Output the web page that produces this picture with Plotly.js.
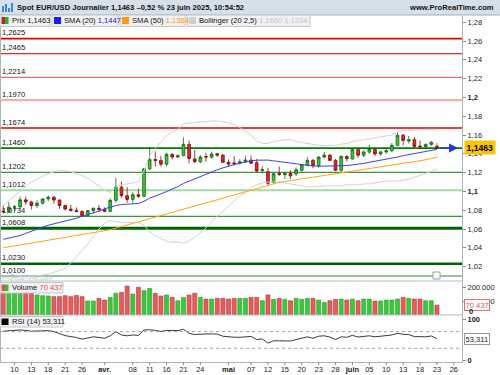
<!DOCTYPE html>
<html><head><meta charset="utf-8">
<script src="https://cdn.plot.ly/plotly-3.0.1.min.js"></script>
<style>html,body{margin:0;padding:0;background:#fff;}#chart{width:500px;height:375px;}</style>
</head><body><div id="chart"></div>
<script>
const dates = ['2025-03-06','2025-03-07','2025-03-10','2025-03-11','2025-03-12','2025-03-13','2025-03-14','2025-03-17','2025-03-18','2025-03-19','2025-03-20','2025-03-21','2025-03-24','2025-03-25','2025-03-26','2025-03-27','2025-03-28','2025-03-31','2025-04-01','2025-04-02','2025-04-03','2025-04-04','2025-04-07','2025-04-08','2025-04-09','2025-04-10','2025-04-11','2025-04-14','2025-04-15','2025-04-16','2025-04-17','2025-04-18','2025-04-21','2025-04-22','2025-04-23','2025-04-24','2025-04-25','2025-04-28','2025-04-29','2025-04-30','2025-05-01','2025-05-02','2025-05-05','2025-05-06','2025-05-07','2025-05-08','2025-05-09','2025-05-12','2025-05-13','2025-05-14','2025-05-15','2025-05-16','2025-05-19','2025-05-20','2025-05-21','2025-05-22','2025-05-23','2025-05-26','2025-05-27','2025-05-28','2025-05-29','2025-05-30','2025-06-02','2025-06-03','2025-06-04','2025-06-05','2025-06-06','2025-06-09','2025-06-10','2025-06-11','2025-06-12','2025-06-13','2025-06-16','2025-06-17','2025-06-18','2025-06-19','2025-06-20','2025-06-23'];
const futureDates = ['2025-06-24','2025-06-25','2025-06-26','2025-06-27'];

const open  = [1.0790,1.0785,1.0831,1.0836,1.0910,1.0888,1.0850,1.0875,1.0920,1.0938,1.0908,1.0850,1.0812,1.0798,1.0786,1.0742,1.0795,1.0820,1.0808,1.0788,1.0905,1.1045,1.0955,1.0915,1.0965,1.0948,1.1240,1.1340,1.1330,1.1290,1.1395,1.1366,1.1380,1.1500,1.1346,1.1316,1.1370,1.1363,1.1400,1.1386,1.1310,1.1303,1.1298,1.1315,1.1334,1.1306,1.1220,1.1210,1.1095,1.1190,1.1178,1.1192,1.1185,1.1225,1.1280,1.1330,1.1275,1.1365,1.1386,1.1330,1.1225,1.1372,1.1345,1.1445,1.1385,1.1418,1.1448,1.1398,1.1420,1.1432,1.1490,1.1598,1.1535,1.1550,1.1482,1.1476,1.1500,1.1480];
const high  = [1.0854,1.0888,1.0856,1.0947,1.0946,1.0900,1.0905,1.0925,1.0955,1.0951,1.0915,1.0860,1.0858,1.0830,1.0800,1.0805,1.0830,1.0855,1.0830,1.0925,1.1144,1.1105,1.1045,1.0990,1.1030,1.1250,1.1473,1.1425,1.1375,1.1410,1.1405,1.1395,1.1573,1.1540,1.1440,1.1385,1.1410,1.1425,1.1410,1.1395,1.1340,1.1375,1.1345,1.1380,1.1380,1.1345,1.1265,1.1250,1.1200,1.1265,1.1210,1.1225,1.1255,1.1290,1.1365,1.1345,1.1375,1.1420,1.1395,1.1345,1.1385,1.1385,1.1455,1.1455,1.1435,1.1495,1.1460,1.1430,1.1450,1.1515,1.1630,1.1613,1.1590,1.1580,1.1540,1.1510,1.1535,1.1512];
const low   = [1.0765,1.0766,1.0790,1.0810,1.0860,1.0808,1.0825,1.0860,1.0895,1.0868,1.0815,1.0796,1.0785,1.0780,1.0733,1.0730,1.0765,1.0780,1.0777,1.0778,1.0880,1.0935,1.0880,1.0880,1.0930,1.0940,1.1230,1.1265,1.1265,1.1265,1.1340,1.1355,1.1375,1.1300,1.1300,1.1300,1.1315,1.1350,1.1365,1.1300,1.1265,1.1275,1.1285,1.1300,1.1290,1.1200,1.1190,1.1065,1.1085,1.1165,1.1130,1.1130,1.1165,1.1210,1.1265,1.1245,1.1250,1.1350,1.1320,1.1215,1.1210,1.1320,1.1340,1.1357,1.1365,1.1400,1.1375,1.1380,1.1400,1.1420,1.1480,1.1490,1.1510,1.1470,1.1450,1.1445,1.1485,1.1452];
const close = [1.0785,1.0833,1.0836,1.0910,1.0888,1.0850,1.0875,1.0920,1.0938,1.0908,1.0850,1.0812,1.0798,1.0786,1.0742,1.0795,1.0820,1.0808,1.0788,1.0905,1.1045,1.0955,1.0915,1.0965,1.0948,1.1240,1.1340,1.1330,1.1290,1.1395,1.1365,1.1380,1.1500,1.1350,1.1316,1.1366,1.1366,1.1398,1.1386,1.1310,1.1290,1.1296,1.1315,1.1334,1.1300,1.1217,1.1232,1.1086,1.1188,1.1180,1.1190,1.1166,1.1230,1.1283,1.1330,1.1275,1.1365,1.1386,1.1330,1.1225,1.1372,1.1348,1.1445,1.1385,1.1420,1.1455,1.1398,1.1420,1.1432,1.1490,1.1598,1.1542,1.1550,1.1478,1.1476,1.1500,1.1523,1.1463];

const volume = [200000,185000,170000,175000,165000,160000,143000,138000,136000,131000,131000,138000,131000,140000,131000,100000,100000,119000,107000,126000,155000,162000,207000,150000,198000,174000,190000,155000,136000,143000,126000,102000,126000,143000,155000,126000,114000,114000,119000,119000,114000,119000,119000,119000,126000,126000,102000,143000,112000,119000,112000,102000,119000,112000,119000,119000,107000,90000,102000,112000,114000,107000,114000,102000,114000,114000,100000,100000,107000,107000,114000,126000,119000,114000,114000,102000,102000,70437];

const sma20 = [1.0490,1.0503,1.0515,1.0530,1.0553,1.0578,1.0598,1.0620,1.0640,1.0655,1.0665,1.0678,1.0697,1.0715,1.0735,1.0752,1.0767,1.0790,1.0815,1.0833,1.0850,1.0860,1.0865,1.0868,1.0872,1.0895,1.0928,1.0950,1.0970,1.0998,1.1025,1.1050,1.1085,1.1110,1.1135,1.1155,1.1178,1.1205,1.1230,1.1250,1.1270,1.1285,1.1300,1.1315,1.1325,1.1332,1.1336,1.1333,1.1325,1.1317,1.1308,1.1298,1.1288,1.1280,1.1275,1.1270,1.1268,1.1268,1.1268,1.1268,1.1270,1.1275,1.1282,1.1288,1.1298,1.1310,1.1320,1.1330,1.1340,1.1350,1.1365,1.1380,1.1392,1.1405,1.1418,1.1430,1.1440,1.1447];
const sma50 = [1.0400,1.0410,1.0420,1.0430,1.0440,1.0450,1.0460,1.0470,1.0481,1.0491,1.0501,1.0511,1.0521,1.0531,1.0541,1.0551,1.0562,1.0572,1.0582,1.0592,1.0609,1.0626,1.0643,1.0660,1.0677,1.0694,1.0711,1.0728,1.0745,1.0762,1.0779,1.0796,1.0813,1.0830,1.0847,1.0864,1.0881,1.0898,1.0915,1.0932,1.0949,1.0966,1.0983,1.1000,1.1017,1.1034,1.1051,1.1066,1.1081,1.1096,1.1105,1.1114,1.1123,1.1132,1.1141,1.1150,1.1159,1.1168,1.1177,1.1186,1.1195,1.1204,1.1213,1.1222,1.1231,1.1240,1.1249,1.1258,1.1267,1.1276,1.1286,1.1296,1.1306,1.1316,1.1326,1.1337,1.1350,1.1364];
const bbUpper = [1.085,1.090,1.095,1.101,1.106,1.110,1.113,1.116,1.119,1.121,1.122,1.122,1.121,1.119,1.117,1.114,1.110,1.106,1.101,1.099,1.104,1.107,1.108,1.109,1.110,1.122,1.138,1.146,1.152,1.159,1.163,1.166,1.172,1.173,1.173,1.174,1.174,1.175,1.175,1.174,1.173,1.171,1.168,1.164,1.160,1.153,1.151,1.151,1.153,1.154,1.155,1.155,1.153,1.152,1.151,1.150,1.149,1.149,1.149,1.149,1.150,1.151,1.153,1.154,1.155,1.156,1.157,1.158,1.159,1.160,1.163,1.1645,1.165,1.1655,1.1655,1.166,1.166,1.166];
const bbLower = [1.016,1.013,1.011,1.010,1.010,1.010,1.010,1.011,1.012,1.014,1.016,1.018,1.024,1.030,1.037,1.044,1.052,1.060,1.066,1.069,1.068,1.067,1.067,1.067,1.067,1.064,1.057,1.053,1.050,1.047,1.046,1.046,1.045,1.047,1.051,1.056,1.061,1.068,1.073,1.079,1.084,1.090,1.095,1.100,1.104,1.107,1.109,1.110,1.110,1.110,1.109,1.108,1.107,1.106,1.105,1.105,1.105,1.106,1.106,1.106,1.106,1.107,1.107,1.107,1.108,1.108,1.109,1.110,1.111,1.111,1.111,1.112,1.113,1.115,1.117,1.119,1.121,1.1234];
const rsi = [71,72,72.5,74,73,71,71.5,72,72.5,70,65,60.5,58,56,52,55,57.5,56,54,60,70,62,60,62,61,74,74.5,73,70.5,73,72,72.5,75.5,66,63,64.4,64.4,64.4,64,59,57,56.5,56.4,57.5,58.5,51,52.5,42.5,48,48,48.5,47.5,51,54,57.5,54,59,60,57,51,57.5,56.5,61,57,58.5,60,57.5,59,59.5,62,66,63.5,63,58,58,57.5,59.5,53.311];

const levelValues = [1.2625,1.2465,1.2214,1.1970,1.1674,1.1460,1.1202,1.1012,1.0734,1.0608,1.0230,1.0100];
const levelLabels = ['1,2625','1,2465','1,2214','1,1970','1,1674','1,1460','1,1202','1,1012','1,0734','1,0608','1,0230','1,0100'];
const levelColors = ['#e00000','#e62a2a','#f07070','#f9abab','#e00000','#008000','#3a983a','#a3d9a3','#3a983a','#006400','#006400','#2a8a2a'];
const levelWidths = [1.6,1.3,1.3,2.2,1.6,1.6,1.1,2.2,1.1,3,2.6,1.1];

const priceTicks = [1.02,1.04,1.06,1.08,1.10,1.12,1.14,1.16,1.18,1.20,1.22,1.24,1.26,1.28];
const priceTickLabels = ['1,02','1,04','1,06','1,08','1,1','1,12','1,14','1,16','1,18','1,2','1,22','1,24','1,26','1,28'];
const volTicks = [100000,200000];
const volTickLabels = ['100 000','200 000'];
const rsiTicks = [0,100];
const rsiTickLabels = ['0','100'];
const rsiLevels = [70,30];

const tickDates = ['2025-03-10','2025-03-13','2025-03-18','2025-03-21','2025-03-26','2025-04-01','2025-04-08','2025-04-11','2025-04-16','2025-04-21','2025-04-24','2025-05-01','2025-05-07','2025-05-12','2025-05-15','2025-05-20','2025-05-23','2025-05-28','2025-06-02','2025-06-05','2025-06-10','2025-06-13','2025-06-18','2025-06-23','2025-06-26'];
const tickLabels = ['10','13','18','21','26','avr.','08','11','16','21','24','mai','07','12','15','20','23','28','juin','05','10','13','18','23','26'];

const lastClose = 1.1463, lastVolume = 70437, lastRsi = 53.311;

// ---- geometry helpers (pixel -> paper) ----
const W = 500, H = 375;
const px = v => v / W, py = v => 1 - v / H;
const FONT = 'Liberation Sans, Arial, sans-serif';

const axisDates = dates.concat(futureDates);
const xs = dates.map((d, i) => i);
const tickPos = tickDates.map(d => axisDates.indexOf(d));
const tickText = tickLabels.map(t => /[a-z]/.test(t) ? '<b>' + t + '</b>' : t);
const volColors = close.map((c, i) => c >= open[i] ? '#3fc63f' : '#e45c5c');
const volLines = close.map((c, i) => c >= open[i] ? '#2a9a2a' : '#b83434');

const traces = [
  {type:'scatter', mode:'lines', x:xs, y:bbUpper, line:{color:'#d2d2d2', width:1}, xaxis:'x', yaxis:'y'},
  {type:'scatter', mode:'lines', x:xs, y:bbLower, line:{color:'#d2d2d2', width:1}, xaxis:'x', yaxis:'y'},
  {type:'scatter', mode:'lines', x:xs, y:sma50, line:{color:'#ffa31a', width:1}, xaxis:'x', yaxis:'y'},
  {type:'scatter', mode:'lines', x:xs, y:sma20, line:{color:'#3a3ef0', width:1}, xaxis:'x', yaxis:'y'},
  {type:'candlestick', x:xs, open:open, high:high, low:low, close:close, xaxis:'x', yaxis:'y',
   increasing:{line:{color:'#1d5e1d', width:0.8}, fillcolor:'#2fcb2f'},
   decreasing:{line:{color:'#7a1010', width:0.8}, fillcolor:'#e82424'}, whiskerwidth:0},
  {type:'bar', x:xs, y:volume, xaxis:'x', yaxis:'y2', width:0.72,
   marker:{color:volColors, line:{color:volLines, width:0.6}}},
  {type:'scatter', mode:'lines', x:xs, y:rsi, line:{color:'#3a3a3a', width:1}, xaxis:'x', yaxis:'y3'}
];

const axisLine = '#aab4be';
const tickFont = {family:FONT, size:7.5, color:'#222'};

const shapes = [];
const annotations = [];

// header strip
shapes.push({type:'rect', xref:'paper', yref:'paper', x0:0, x1:1, y0:py(15), y1:1, fillcolor:'#d6e0e9', line:{width:0}, layer:'below'});
shapes.push({type:'line', xref:'paper', yref:'paper', x0:0, x1:1, y0:py(15), y1:py(15), line:{color:'#9fb0c0', width:1}});
[[2,6,10],[5,4,10],[8,8,10],[11,3,10]].forEach(([x, top, bot]) => {
  shapes.push({type:'rect', xref:'paper', yref:'paper', x0:px(x), x1:px(x+2), y0:py(bot+2), y1:py(top), fillcolor:'#3d86d8', line:{width:0}});
});
annotations.push({xref:'paper', yref:'paper', x:px(15), y:py(7.5), xanchor:'left', yanchor:'middle', showarrow:false,
  text:'<b>Spot EUR/USD Journalier 1,1463 \u20130,52 % 23 juin 2025, 10:54:52</b>', font:{family:FONT, size:7.6, color:'#111'}});
annotations.push({xref:'paper', yref:'paper', x:px(496), y:py(7.5), xanchor:'right', yanchor:'middle', showarrow:false,
  text:'<b>www.ProRealTime.com</b>', font:{family:FONT, size:7.6, color:'#111'}});

// left edge
shapes.push({type:'line', xref:'paper', yref:'paper', x0:px(0.5), x1:px(0.5), y0:py(362), y1:py(15), line:{color:'#a8b6c4', width:1}});

// horizontal levels
levelValues.forEach((v, i) => {
  shapes.push({type:'line', xref:'paper', yref:'y', x0:0, x1:px(462), y0:v, y1:v, line:{color:levelColors[i], width:levelWidths[i]}, layer:'below'});
  annotations.push({xref:'paper', yref:'y', x:px(1), y:v, xanchor:'left', yanchor:'bottom', yshift:0.5, showarrow:false, borderpad:0,
    text:levelLabels[i], font:{family:FONT, size:7.6, color:'#111'}});
});

// panel separators
[281, 315].forEach(y => shapes.push({type:'line', xref:'paper', yref:'paper', x0:0, x1:px(462), y0:py(y), y1:py(y), line:{color:'#b4bec8', width:1}}));

// RSI dashed levels
rsiLevels.forEach(v => shapes.push({type:'line', xref:'paper', yref:'y3', x0:0, x1:px(462), y0:v, y1:v, line:{color:'#a0a0a0', width:1, dash:'3px,3px'}}));

// x-axis tick marks (drawn as short lines below the axis)
tickPos.forEach(p => shapes.push({type:'line', xref:'x', yref:'paper', x0:p, x1:p, y0:py(362), y1:py(365), line:{color:'#8a8a8a', width:1}}));

// legend row
function legendBox(x0, x1, y0, y1) {
  shapes.push({type:'rect', xref:'paper', yref:'paper', x0:px(x0), x1:px(x1), y0:py(y1), y1:py(y0), fillcolor:'#f1f1f1', line:{color:'#c6c6c6', width:1}});
}
function square(x, y0, color) {
  shapes.push({type:'rect', xref:'paper', yref:'paper', x0:px(x), x1:px(x+7), y0:py(y0+7), y1:py(y0), fillcolor:color, line:{width:0}});
}
function legendText(x, y, html) {
  annotations.push({xref:'paper', yref:'paper', x:px(x), y:py(y), xanchor:'left', yanchor:'middle', showarrow:false, borderpad:0,
    text:html, font:{family:FONT, size:7.6, color:'#111'}});
}
legendBox(0, 50, 15, 26.5);
shapes.push({type:'rect', xref:'paper', yref:'paper', x0:px(1.5), x1:px(5), y0:py(24), y1:py(17), fillcolor:'#d42020', line:{width:0}});
shapes.push({type:'rect', xref:'paper', yref:'paper', x0:px(5), x1:px(8.5), y0:py(24), y1:py(17), fillcolor:'#22b622', line:{width:0}});
legendText(10.5, 20.8, 'Prix ' + lastClose.toFixed(4).replace('.', ','));
legendBox(52, 118, 15, 26.5);
square(54, 17, '#1c1cf0');
legendText(63, 20.8, 'SMA (20) <span style="color:#2020e0">' + sma20[sma20.length-1].toFixed(4).replace('.', ',') + '</span>');
legendBox(120, 185, 15, 26.5);
square(122, 17, '#ff9a10');
legendText(131, 20.8, 'SMA (50) <span style="color:#f59a10">' + sma50[sma50.length-1].toFixed(4).replace('.', ',') + '</span>');
legendBox(187, 310, 15, 26.5);
square(189, 17, '#cfcfcf');
legendText(198, 20.8, 'Bollinger (20 2,5) <span style="color:#c4c4c4">' + bbUpper[bbUpper.length-1].toFixed(4).replace('.', ',') + ' ' + bbLower[bbLower.length-1].toFixed(4).replace('.', ',') + '</span>');

// volume legend
legendBox(0, 63, 282.5, 293);
shapes.push({type:'rect', xref:'paper', yref:'paper', x0:px(1.5), x1:px(5), y0:py(291), y1:py(284.5), fillcolor:'#e05050', line:{width:0}});
shapes.push({type:'rect', xref:'paper', yref:'paper', x0:px(5), x1:px(8.5), y0:py(291), y1:py(284.5), fillcolor:'#30c030', line:{width:0}});
legendText(10.5, 287.8, 'Volume <span style="color:#e05050">70 437</span>');

// RSI legend
legendBox(0, 63, 316.5, 327);
shapes.push({type:'rect', xref:'paper', yref:'paper', x0:px(1.5), x1:px(8.5), y0:py(325), y1:py(318.5), fillcolor:'#000', line:{width:0}});
legendText(10.5, 321.8, 'RSI (14) ' + lastRsi.toFixed(3).replace('.', ','));

// watermark (small, tucked under the lowest level label)
annotations.push({xref:'paper', yref:'paper', x:px(1), y:py(281.5), xanchor:'left', yanchor:'bottom', showarrow:false, borderpad:0,
  text:'ProRealTime.com', font:{family:FONT, size:6.3, color:'#c4c4c4'}});
// small box icon
shapes.push({type:'rect', xref:'paper', yref:'paper', x0:px(433), x1:px(440), y0:py(279), y1:py(272), fillcolor:'#fff', line:{color:'#a0a0a0', width:1}});

// current price arrow + tag
annotations.push({xref:'x', yref:'y', axref:'x', ayref:'y', x:80.75, y:lastClose, ax:77.3, ay:lastClose, text:'', showarrow:true,
  arrowhead:2, arrowsize:1.2, arrowwidth:1.5, arrowcolor:'#2536e0'});
annotations.push({xref:'paper', yref:'y', x:px(464), y:lastClose, xanchor:'left', yanchor:'middle', showarrow:false,
  text:'<b>' + lastClose.toFixed(4).replace('.', ',') + '</b>', bgcolor:'#f7c600', borderpad:1.5, font:{family:FONT, size:8.6, color:'#000'}});
annotations.push({xref:'paper', yref:'y2', x:px(464), y:lastVolume, xanchor:'left', yanchor:'middle', showarrow:false,
  text:'70 437', bgcolor:'#fff', bordercolor:'#e07070', borderwidth:1, borderpad:0.5, font:{family:FONT, size:7.6, color:'#e05050'}});
annotations.push({xref:'paper', yref:'paper', x:px(467), y:py(311.5), xanchor:'left', yanchor:'middle', showarrow:false,
  text:'<b>0</b>', font:{family:FONT, size:7.6, color:'#222'}});
annotations.push({xref:'paper', yref:'y3', x:px(464), y:lastRsi, xanchor:'left', yanchor:'middle', showarrow:false,
  text:lastRsi.toFixed(3).replace('.', ','), bgcolor:'#fff', bordercolor:'#999', borderwidth:1, borderpad:0.5, font:{family:FONT, size:7.6, color:'#222'}});

const yCommon = {side:'right', anchor:'x', showgrid:false, zeroline:false, showline:true, linecolor:axisLine, linewidth:1,
  ticks:'outside', ticklen:3, tickcolor:'#8a8a8a', tickfont:tickFont, fixedrange:true};

const layout = {
  width:W, height:H, margin:{l:0, r:0, t:0, b:0}, paper_bgcolor:'#fff', plot_bgcolor:'#fff',
  showlegend:false, hovermode:false, dragmode:false, bargap:0,
  font:{family:FONT, size:7.5, color:'#222'},
  xaxis:{domain:[0, px(462)], anchor:'y3', range:[-0.57, 81.45], tickmode:'array', tickvals:tickPos, ticktext:tickText,
    showgrid:false, zeroline:false, showline:true, linecolor:axisLine, ticks:'', ticklabelstandoff:0,
    tickfont:tickFont, rangeslider:{visible:false}, fixedrange:true},
  yaxis:Object.assign({}, yCommon, {domain:[py(281), py(16)], range:[1.00468, 1.2866], tickmode:'array',
    tickvals:priceTicks, ticktext:priceTickLabels.map(t => (t === '1,1' || t === '1,2') ? '<b>' + t + '</b>' : t)}),
  yaxis2:Object.assign({}, yCommon, {domain:[py(315), py(281)], range:[0, 243000], tickmode:'array', tickvals:volTicks, ticktext:volTickLabels}),
  yaxis3:Object.assign({}, yCommon, {domain:[py(362), py(315)], range:[-3, 110], tickmode:'array', tickvals:rsiTicks, ticktext:rsiTickLabels.map(t => '<b>' + t + '</b>')}),
  shapes:shapes, annotations:annotations
};

Plotly.newPlot('chart', traces, layout, {staticPlot:true, displayModeBar:false});
</script>
</body></html>
